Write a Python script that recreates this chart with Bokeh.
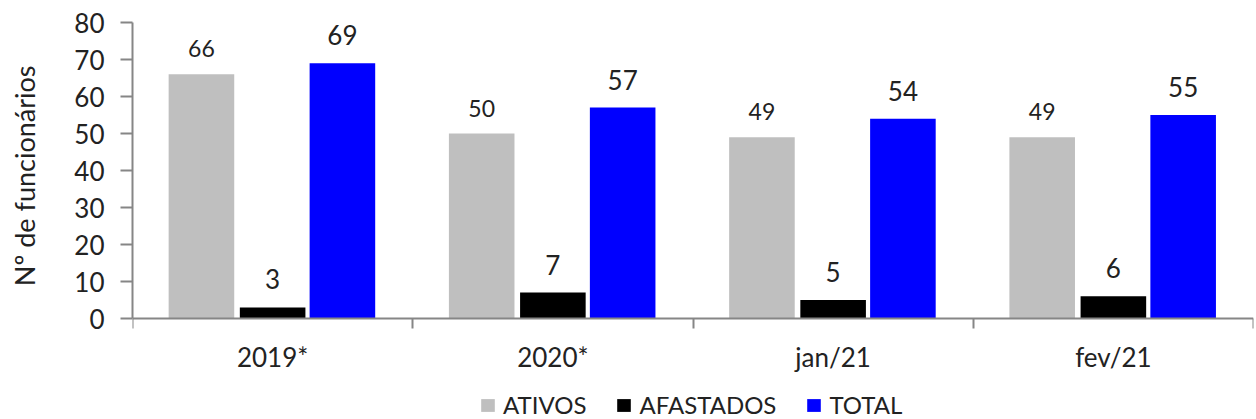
from bokeh.plotting import figure
from bokeh.models import ColumnDataSource, Range1d, FixedTicker, Legend, LegendItem, Title
from bokeh.transform import dodge
from bokeh.core.properties import value
from bokeh.embed import file_html
from bokeh.resources import INLINE

categories = ["2019*", "2020*", "jan/21", "fev/21"]
ativos = [66, 50, 49, 49]
afastados = [3, 7, 5, 6]
total = [69, 57, 54, 55]
y_ticks = [0, 10, 20, 30, 40, 50, 60, 70, 80]
y_title = "Nº de funcionários"

FONT = "Lato"
xc = [i + 0.5 for i in range(len(categories))]
src = ColumnDataSource(dict(x=xc, ativos=ativos, afastados=afastados, total=total,
                            l_at=[str(v) for v in ativos],
                            l_af=[str(v) for v in afastados],
                            l_to=[str(v) for v in total]))

# frame spans the full lower area so the legend can sit under the axis
y_min = -101 / 3.7
p = figure(width=1256, height=419, output_backend="svg", toolbar_location=None,
           x_range=Range1d(0, len(categories)), y_range=Range1d(y_min, 80),
           min_border_left=130, min_border_top=22, min_border_right=3, min_border_bottom=0)
p.outline_line_color = None
p.grid.visible = False
p.background_fill_color = "white"
p.border_fill_color = "white"

w = 0.234
r1 = p.vbar(x=dodge("x", -0.254, range=p.x_range), top="ativos", width=w, source=src,
            color="#BFBFBF", line_color=None)
r2 = p.vbar(x=dodge("x", 0.0, range=p.x_range), top="afastados", width=w, source=src,
            color="#000000", line_color=None)
r3 = p.vbar(x=dodge("x", 0.249, range=p.x_range), top="total", width=w, source=src,
            color="#0000FF", line_color=None)

p.text(x=dodge("x", -0.254, range=p.x_range), y="ativos", text="l_at", source=src,
       text_align="center", text_baseline="bottom", y_offset=-17,
       text_font=value(FONT), text_font_size="23px", text_color="#222222")
p.text(x=dodge("x", 0.0, range=p.x_range), y="afastados", text="l_af", source=src,
       text_align="center", text_baseline="bottom", y_offset=-18,
       text_font=value(FONT), text_font_size="26px", text_color="#222222")
p.text(x=dodge("x", 0.249, range=p.x_range), y="total", text="l_to", source=src,
       text_align="center", text_baseline="bottom", y_offset=-18,
       text_font=value(FONT), text_font_size="26px", text_color="#222222")

# x axis (drawn at y = 0)
xa = p.xaxis[0]
xa.fixed_location = 0
xa.ticker = FixedTicker(ticks=xc, minor_ticks=list(range(len(categories) + 1)))
xa.major_label_overrides = {v: c for v, c in zip(xc, categories)}
xa.major_tick_line_color = None
xa.major_tick_out = 0
xa.major_tick_in = 0
xa.minor_tick_out = 10
xa.minor_tick_in = 0
xa.minor_tick_line_color = "#868686"
xa.minor_tick_line_width = 2
xa.axis_line_color = "#868686"
xa.axis_line_width = 2
xa.major_label_standoff = 12
xa.major_label_text_font = FONT
xa.major_label_text_font_size = "26px"
xa.major_label_text_color = "#222222"

# y axis
ya = p.yaxis[0]
ya.bounds = (0, 80)
ya.ticker = FixedTicker(ticks=y_ticks)
ya.minor_tick_line_color = None
ya.major_tick_out = 12
ya.major_tick_in = 0
ya.major_tick_line_color = "#868686"
ya.major_tick_line_width = 2
ya.axis_line_color = "#868686"
ya.axis_line_width = 2
ya.major_label_standoff = 16
ya.major_label_text_font = FONT
ya.major_label_text_font_size = "26px"
ya.major_label_text_color = "#222222"
# blank label only reserves room between tick labels and the title
ya.axis_label = " "
ya.axis_label_text_font_size = "1px"
ya.axis_label_standoff = 22

# y axis title, aligned to the 0..80 part of the frame
yt = Title(text=y_title, align="right", offset=43, vertical_align="bottom",
           standoff=10, text_font=FONT, text_font_size="27px",
           text_font_style="normal", text_color="#222222")
p.add_layout(yt, "left")

legend = Legend(items=[LegendItem(label="ATIVOS", renderers=[r1]),
                       LegendItem(label="AFASTADOS", renderers=[r2]),
                       LegendItem(label="TOTAL", renderers=[r3])],
                orientation="horizontal", location=(347, 0),
                label_text_font=FONT, label_text_font_size="24px",
                label_text_color="#222222",
                glyph_width=17, glyph_height=16, spacing=29,
                label_standoff=7, border_line_color=None,
                background_fill_alpha=0, margin=0, padding=0)
p.add_layout(legend, "center")

open("out.html", "w").write(file_html(p, INLINE))
